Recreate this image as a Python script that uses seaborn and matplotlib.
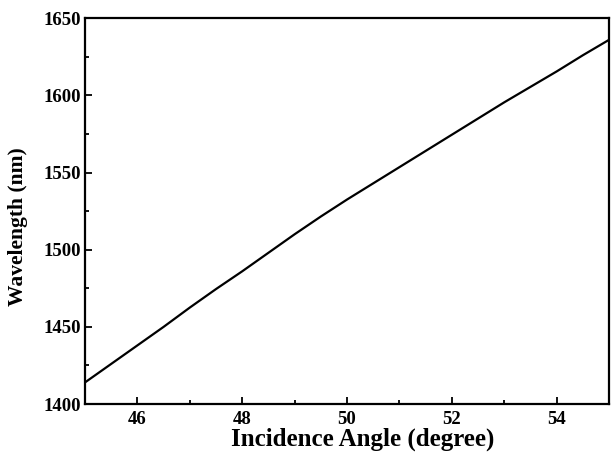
import matplotlib
matplotlib.use("Agg")
import matplotlib.pyplot as plt
from matplotlib.ticker import MultipleLocator
import seaborn as sns
import pandas as pd

angle = [45.0, 45.5, 46.0, 46.5, 47.0, 47.5, 48.0, 48.5, 49.0, 49.5, 50.0,
         50.5, 51.0, 51.5, 52.0, 52.5, 53.0, 53.5, 54.0, 54.5, 55.0]
wavelength = [1414, 1426, 1438, 1450, 1462.5, 1474.5, 1486, 1498, 1510, 1521.5,
              1532.5, 1543, 1553.5, 1564, 1574.5, 1585, 1595.5, 1605.5, 1615.5,
              1626, 1636]
x_ticks = [46, 48, 50, 52, 54]
y_ticks = [1400, 1450, 1500, 1550, 1600, 1650]

sns.set_style("white")
plt.rcParams['font.family'] = ['Liberation Serif', 'DejaVu Serif']
plt.rcParams['text.color'] = 'black'
plt.rcParams['axes.labelcolor'] = 'black'
plt.rcParams['xtick.color'] = 'black'
plt.rcParams['ytick.color'] = 'black'

df = pd.DataFrame({"angle": angle, "wavelength": wavelength})

fig = plt.figure(figsize=(6.11, 4.65), dpi=100)
ax = fig.add_axes([0.139, 0.131, 0.858, 0.830])
sns.lineplot(data=df, x="angle", y="wavelength", color="black", linewidth=1.6, ax=ax)

ax.set_xlim(45, 55)
ax.set_ylim(1400, 1650)
ax.set_xticks(x_ticks)
ax.set_yticks(y_ticks)
ax.xaxis.set_minor_locator(MultipleLocator(1))
ax.yaxis.set_minor_locator(MultipleLocator(25))
ax.tick_params(which="both", direction="in", colors="black", width=1.3,
               top=False, right=False, bottom=True, left=True)
ax.tick_params(which="major", length=5, labelsize=13.5)
ax.tick_params(axis="x", which="major", pad=5)
ax.tick_params(axis="y", which="major", pad=3)
ax.tick_params(which="minor", length=3)
for lab in ax.get_xticklabels() + ax.get_yticklabels():
    lab.set_fontweight("bold")
for s in ax.spines.values():
    s.set_color("black")
    s.set_linewidth(1.6)

ax.set_xlabel("Incidence Angle (degree)", fontsize=18, fontweight="bold")
ax.set_ylabel("Wavelength (nm)", fontsize=15.5, fontweight="bold")
ax.xaxis.set_label_coords(0.529, -0.062)
ax.yaxis.set_label_coords(-0.108, 0.46)

fig.savefig("out.png", dpi=100)
